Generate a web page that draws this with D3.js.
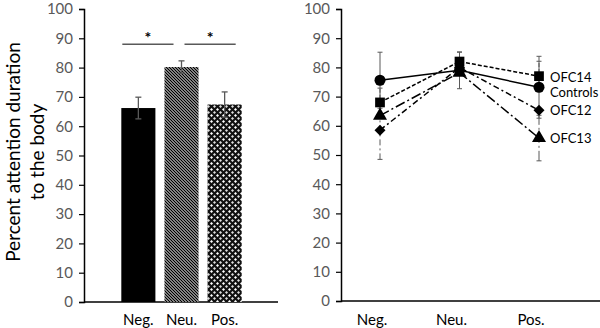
<!DOCTYPE html>
<html><head><meta charset="utf-8">
<script src="https://cdn.jsdelivr.net/npm/d3@7"></script>
<style>body{margin:0;background:#fff}svg{display:block}text{font-family:Lato,"Open Sans",sans-serif}</style>
</head><body><svg id="c" width="600" height="328"></svg>
<script>
// ---- data ----
const categories = ["Neg.", "Neu.", "Pos."];
const groupMeans = [66.2, 80.2, 67.4];
const groupErr = [3.7, 2.1, 4.3];
const yTicks = [0,10,20,30,40,50,60,70,80,90,100];
const sigPairs = [["Neg.","Neu."],["Neu.","Pos."]];
const sigLevel = 88;
const seriesNames = ["Controls", "OFC14", "OFC12", "OFC13"];
const controls = [75.6, 79.0, 73.2];
const controlsErr = [9.6, 6.3, 10.6];
const ofc14 = [68.0, 82.0, 77.0];
const ofc14Err = [4.9, 3.2, 5.1];
const ofc12 = [58.5, 80.0, 65.3];
const ofc12Err = [10.0, 0, 0];
const ofc13 = [63.5, 78.2, 55.8];
const ofc13Err = [0, 0, 7.8];

const svg = d3.select("#c");
const gray = "#595959";

// patterns
const defs = svg.append("defs");
const p1 = defs.append("pattern").attr("id","hatch").attr("width",3).attr("height",3)
  .attr("patternUnits","userSpaceOnUse");
p1.append("rect").attr("width",3).attr("height",3).attr("fill","#fff");
p1.append("path").attr("d","M0,0L3,3M-1,2L1,4M2,-1L4,1").attr("stroke","#000").attr("stroke-width",1.4);
const p2 = defs.append("pattern").attr("id","check").attr("width",6).attr("height",6)
  .attr("patternUnits","userSpaceOnUse");
p2.append("rect").attr("width",6).attr("height",6).attr("fill","#111");
p2.append("path").attr("d","M1.5,0L3,1.5L1.5,3L0,1.5Z").attr("fill","#fff");
p2.append("path").attr("d","M4.5,3L6,4.5L4.5,6L3,4.5Z").attr("fill","#ddd");
const fills = ["#000", "url(#hatch)", "url(#check)"];

// ---- left chart ----
const yL = d3.scaleLinear().domain([0,100]).range([302,9]);
const xL = d3.scaleBand().domain(categories).range([117,246]).paddingInner(0.21).paddingOuter(0.1);
const L = svg.append("g");
const axL = L.append("g").attr("transform","translate(84,0)")
  .call(d3.axisLeft(yL).tickValues(yTicks).tickSize(5).tickPadding(6));
axL.select(".domain").attr("stroke","#000").attr("stroke-width",1.5);
axL.selectAll(".tick line").attr("stroke","#000").attr("stroke-width",1.2);
axL.selectAll(".tick text").attr("font-size",15).attr("fill",gray);
L.append("line").attr("x1",84).attr("x2",278).attr("y1",yL(0)).attr("y2",yL(0)).attr("stroke","#000").attr("stroke-width",1.5);
L.selectAll("rect.bar").data(categories).join("rect").attr("class","bar")
  .attr("x",d=>xL(d)).attr("width",xL.bandwidth())
  .attr("y",(d,i)=>yL(groupMeans[i])).attr("height",(d,i)=>yL(0)-yL(groupMeans[i]))
  .attr("fill",(d,i)=>fills[i]);
categories.forEach((c,i)=>{
  const cx = xL(c)+xL.bandwidth()/2;
  const lo = yL(groupMeans[i]-groupErr[i]), hi = yL(groupMeans[i]+groupErr[i]);
  L.append("line").attr("x1",cx).attr("x2",cx).attr("y1",lo).attr("y2",hi).attr("stroke",gray).attr("stroke-width",1.3);
  [lo,hi].forEach(y=>L.append("line").attr("x1",cx-3).attr("x2",cx+3).attr("y1",y).attr("y2",y).attr("stroke",gray).attr("stroke-width",1.3));
  L.append("text").attr("x",cx).attr("y",325).attr("text-anchor","middle").attr("font-size",15).attr("fill","#000").text(c);
});
sigPairs.forEach(([a,b])=>{
  const x1b = a==="Neg." ? xL(a)+1 : xL(a)+xL.bandwidth()/2+3;
  const x2b = b==="Neu." ? xL(b)+xL.bandwidth()/2-8 : xL(b)+xL.bandwidth()-6;
  L.append("line").attr("x1",x1b).attr("x2",x2b).attr("y1",yL(sigLevel)).attr("y2",yL(sigLevel)).attr("stroke",gray).attr("stroke-width",1.5);
  L.append("text").attr("x",(x1b+x2b)/2).attr("y",yL(sigLevel)-1).attr("text-anchor","middle")
    .attr("font-size",16).attr("font-weight","bold").attr("fill","#000").text("*");
});
L.append("text").attr("transform","translate(20,152) rotate(-90)").attr("text-anchor","middle")
  .attr("font-size",19).attr("fill","#000").text("Percent attention duration");
L.append("text").attr("transform","translate(44,152) rotate(-90)").attr("text-anchor","middle")
  .attr("font-size",19).attr("fill","#000").text("to the body");

// ---- right chart ----
const yR = d3.scaleLinear().domain([0,100]).range([301,9]);
const xR = d3.scalePoint().domain(categories).range([380,539]);
const R = svg.append("g");
const axR = R.append("g").attr("transform","translate(341,0)")
  .call(d3.axisLeft(yR).tickValues(yTicks).tickSize(5).tickPadding(6));
axR.select(".domain").attr("stroke","#000").attr("stroke-width",1.5);
axR.selectAll(".tick line").attr("stroke","#000").attr("stroke-width",1.2);
axR.selectAll(".tick text").attr("font-size",15).attr("fill",gray);
R.append("line").attr("x1",341).attr("x2",600).attr("y1",yR(0)).attr("y2",yR(0)).attr("stroke","#000").attr("stroke-width",1.5);
categories.forEach(c=>R.append("text").attr("x",xR(c)-8).attr("y",325).attr("text-anchor","middle")
  .attr("font-size",15).attr("fill","#000").text(c));

const series = [
  {name:"OFC13", vals:ofc13, err:ofc13Err, dash:"10,3,2,3", shape:d3.symbolTriangle, size:85, rot:0},
  {name:"OFC12", vals:ofc12, err:ofc12Err, dash:"6,3,2,3", shape:d3.symbolSquare, size:60, rot:45},
  {name:"OFC14", vals:ofc14, err:ofc14Err, dash:"4,2", shape:d3.symbolSquare, size:95, rot:0},
  {name:"Controls", vals:controls, err:controlsErr, dash:null, shape:d3.symbolCircle, size:95, rot:0}
];
series.forEach(s=>{
  categories.forEach((c,i)=>{
    if(!s.err[i]) return;
    const x = xR(c), lo = yR(s.vals[i]-s.err[i]), hi = yR(s.vals[i]+s.err[i]);
    R.append("line").attr("x1",x).attr("x2",x).attr("y1",lo).attr("y2",hi).attr("stroke",gray).attr("stroke-width",1)
      .attr("stroke-dasharray",s.dash);
    [lo,hi].forEach(y=>R.append("line").attr("x1",x-2.5).attr("x2",x+2.5).attr("y1",y).attr("y2",y).attr("stroke",gray).attr("stroke-width",1));
  });
});
const line = d3.line().x((d,i)=>xR(categories[i])).y(d=>yR(d));
series.forEach(s=>{
  R.append("path").attr("d",line(s.vals)).attr("fill","none").attr("stroke","#000").attr("stroke-width",1.5)
    .attr("stroke-dasharray",s.dash);
});
series.forEach(s=>{
  s.vals.forEach((v,i)=>{
    R.append("path").attr("d",d3.symbol().type(s.shape).size(s.size)())
      .attr("transform",`translate(${xR(categories[i])},${yR(v)}) rotate(${s.rot})`).attr("fill","#000");
  });
});
const labelY = {OFC14:yR(ofc14[2])+1, Controls:yR(controls[2])+5, OFC12:yR(ofc12[2]), OFC13:yR(ofc13[2])};
seriesNames.forEach(n=>R.append("text").attr("x",550).attr("y",labelY[n]).attr("dy","0.35em")
  .attr("font-size",13).attr("fill","#000").text(n));
</script></body></html>
